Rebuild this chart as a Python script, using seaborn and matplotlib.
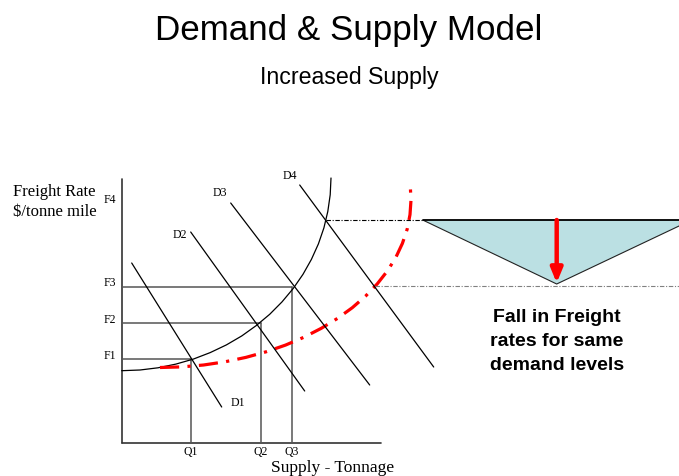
import matplotlib.pyplot as plt
import seaborn as sns

# values (quantity, freight rate), one unit ~ 10 px
supply_q = [0.0, 1.83, 3.63, 5.42, 7.16, 8.85, 10.47, 12.01, 13.45, 14.80,
            16.03, 17.15, 18.13, 18.97, 19.67, 20.22, 20.61, 20.85, 20.93]
supply_r = [7.23, 7.30, 7.52, 7.89, 8.39, 9.04, 9.81, 10.71, 11.74, 12.87,
            14.11, 15.45, 16.87, 18.36, 19.91, 21.51, 23.15, 24.82, 26.5]
new_supply_q = [3.83, 6.02, 8.19, 10.33, 12.41, 14.44, 16.38, 18.23, 19.96, 21.58,
                23.06, 24.39, 25.57, 26.58, 27.42, 28.07, 28.55, 28.83, 28.93, 28.87]
new_supply_r = [7.55, 7.61, 7.80, 8.12, 8.56, 9.12, 9.79, 10.58, 11.47, 12.46,
                13.53, 14.69, 15.93, 17.22, 18.57, 19.96, 21.39, 22.84, 24.3, 25.47]

demand_names = ["D1", "D2", "D3", "D4"]
demand_q = [(1.0, 10.0), (6.9, 18.3), (10.9, 24.8), (17.8, 31.2)]
demand_r = [(18.0, 3.6), (21.1, 5.2), (24.0, 5.8), (25.8, 7.6)]
demand_label_q = [11.6, 5.8, 9.8, 16.8]
demand_label_r = [4.0, 20.8, 25.0, 26.7]

q_names = ["Q1", "Q2", "Q3"]
q_levels = [6.9, 13.9, 17.0]
f_names = ["F1", "F2", "F3", "F4"]
f_levels = [8.4, 12.0, 15.6, 22.3]
f_label_r = [8.7, 12.3, 16.0, 24.3]

new_rate = 15.7          # rate on D4 after the supply shift
tri_q = [30.1, 57.0, 43.5]
tri_r = [22.3, 22.3, 15.9]

AXIS_TOP = 26.4
AXIS_RIGHT = 25.9

sns.set_style("white")
plt.rcParams['font.family'] = ['Liberation Serif', 'DejaVu Serif']
plt.rcParams['text.color'] = 'black'

fig = plt.figure(figsize=(6.79, 4.76), dpi=100)
ax = fig.add_axes([0, 0, 1, 1])
ax.set_xlim(-12.17, 55.73)
ax.set_ylim(-3.3, 44.3)
ax.axis('off')

# axes of the diagram
ax.plot([0, 0], [0, AXIS_TOP], color='#333333', lw=1.2)
ax.plot([0, AXIS_RIGHT], [0, 0], color='#333333', lw=1.2)

# guide lines for the equilibria
for q, f in zip(q_levels, f_levels[:3]):
    ax.plot([0, q], [f, f], color='#555555', lw=1.1)
    ax.plot([q, q], [0, f], color='#555555', lw=1.1)

# supply curves
sns.lineplot(x=supply_q, y=supply_r, sort=False, estimator=None,
             color='black', lw=0.9, ax=ax)
sns.lineplot(x=new_supply_q, y=new_supply_r, sort=False, estimator=None,
             color='#ff0000', lw=2.3, ax=ax, linestyle=(0, (6, 2.6, 1, 2.6)))

# demand curves
for name, qs, rs, lq, lr in zip(demand_names, demand_q, demand_r,
                                demand_label_q, demand_label_r):
    sns.lineplot(x=list(qs), y=list(rs), sort=False, estimator=None,
                 color='black', lw=0.9, ax=ax)
    ax.text(lq, lr, name, fontsize=8.5, ha='center', va='center')

# level labels
for name, lr in zip(f_names, f_label_r):
    ax.text(-0.6, lr, name, fontsize=8.5, ha='right', va='center')
for name, q in zip(q_names, q_levels):
    ax.text(q, -0.9, name, fontsize=8.5, ha='center', va='center')

# dash-dot reference lines to the triangle
ax.plot([demand_q[3][0] + 2.6, tri_q[0]], [f_levels[3]] * 2,
        color='black', lw=0.8, linestyle=(0, (4, 1.5, 1, 1.5)))
ax.plot([25.3, 56.0], [new_rate] * 2,
        color='#808080', lw=0.8, linestyle=(0, (4, 1.5, 1, 1.5)))

# fall in rate triangle and arrow
ax.fill(tri_q, tri_r, facecolor='#bbe0e3', edgecolor='#222222', lw=0.8)
ax.plot(tri_q[:2], tri_r[:2], color='black', lw=1.2)
ax.annotate('', xy=(tri_q[2], tri_r[2] + 0.1), xytext=(tri_q[2], f_levels[3]),
            arrowprops=dict(arrowstyle='-|>,head_width=0.35,head_length=0.85',
                            color='#ff0000', lw=3.2, shrinkA=0, shrinkB=0))

# axis titles
ax.text(-10.9, 25.1, 'Freight Rate', fontsize=12, ha='left', va='center')
ax.text(-10.9, 23.1, '$/tonne mile', fontsize=12, ha='left', va='center')
ax.text(21.1, -2.5, 'Supply - Tonnage', fontsize=12.5, ha='center', va='center')

sans = ['Liberation Sans', 'DejaVu Sans']
ax.text(43.5, 10.15, 'Fall in Freight\nrates for same\ndemand levels',
        fontsize=14, fontweight='bold', family=sans, ha='center', va='center',
        linespacing=1.5)

fig.text(349 / 679, 1 - 40 / 476, 'Demand & Supply Model', fontsize=25.2,
         family=sans, ha='center', va='baseline')
fig.text(349 / 679, 1 - 84 / 476, 'Increased Supply', fontsize=16.7,
         family=sans, ha='center', va='baseline')

fig.savefig('out.png', dpi=100)
